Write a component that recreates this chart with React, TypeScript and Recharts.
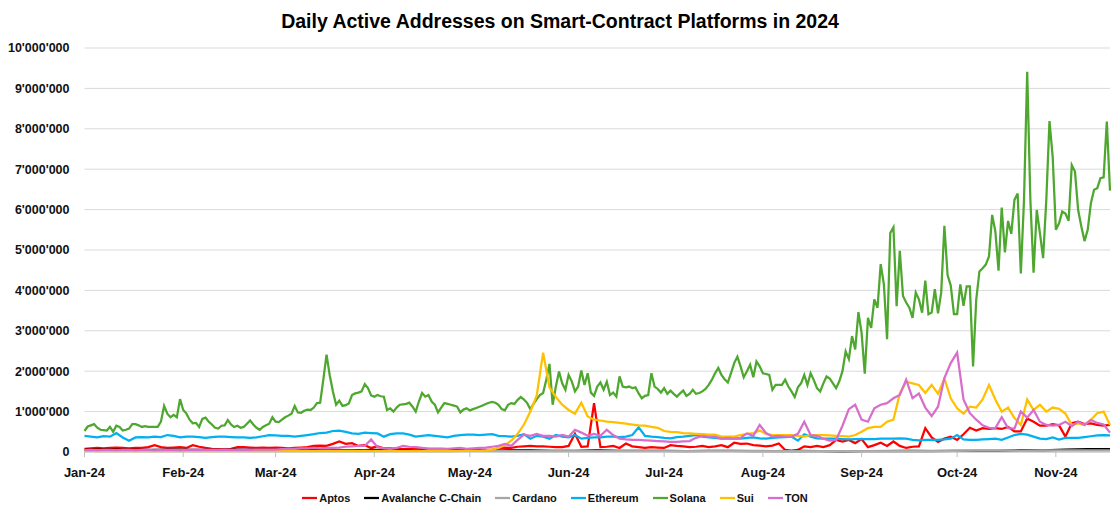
import { LineChart, Line, XAxis, YAxis, CartesianGrid, Legend } from "recharts";

// Day 0 = 1 Jan 2024, last point = 18 Nov 2024. Values in millions of addresses.
const LAST_DAY = 322;
const MONTH_DAYS = [0, 31, 60, 91, 121, 152, 182, 213, 244, 274, 305];
const MONTH_LABELS = ["Jan-24", "Feb-24", "Mar-24", "Apr-24", "May-24", "Jun-24", "Jul-24", "Aug-24", "Sep-24", "Oct-24", "Nov-24"];
const Y_TICKS = [0, 1e6, 2e6, 3e6, 4e6, 5e6, 6e6, 7e6, 8e6, 9e6, 1e7];

// daily
const solana = [
  0.52, 0.63, 0.66, 0.69, 0.60, 0.55, 0.54, 0.53, 0.62, 0.50,
  0.65, 0.62, 0.53, 0.55, 0.58, 0.69, 0.69, 0.66, 0.62, 0.64,
  0.62, 0.62, 0.62, 0.62, 0.75, 1.14, 0.95, 0.86, 0.92, 0.86,
  1.31, 1.04, 0.95, 0.80, 0.71, 0.72, 0.62, 0.82, 0.85, 0.75,
  0.68, 0.60, 0.58, 0.65, 0.66, 0.79, 0.68, 0.62, 0.65, 0.60,
  0.62, 0.70, 0.78, 0.68, 0.60, 0.55, 0.62, 0.66, 0.70, 0.86,
  0.75, 0.74, 0.80, 0.86, 0.90, 0.95, 1.14, 0.98, 0.97, 1.02,
  1.05, 1.04, 1.10, 1.21, 1.22, 1.80, 2.41, 1.90, 1.50, 1.17,
  1.27, 1.14, 1.16, 1.20, 1.41, 1.45, 1.47, 1.50, 1.68, 1.58,
  1.40, 1.37, 1.41, 1.38, 1.37, 1.04, 1.08, 1.00, 1.10, 1.17,
  1.18, 1.19, 1.22, 1.12, 1.00, 1.25, 1.46, 1.37, 1.41, 1.25,
  1.17, 0.98, 1.10, 1.21, 1.19, 1.17, 1.15, 1.12, 0.98, 1.05,
  1.08, 1.03, 1.06, 1.09, 1.12, 1.15, 1.19, 1.22, 1.24, 1.22,
  1.17, 1.06, 1.03, 1.17, 1.21, 1.19, 1.29, 1.36, 1.30, 1.21,
  1.06, 1.19, 1.31, 1.41, 1.46, 1.79, 2.18, 1.17, 1.62, 1.99,
  1.70, 1.54, 1.91, 1.75, 1.50, 1.62, 2.02, 1.66, 1.95, 1.47,
  1.39, 1.62, 1.72, 1.54, 1.74, 1.41, 1.47, 1.37, 1.87, 1.62,
  1.60, 1.62, 1.58, 1.60, 1.45, 1.33, 1.39, 1.41, 1.95, 1.62,
  1.56, 1.47, 1.58, 1.44, 1.52, 1.44, 1.37, 1.45, 1.52, 1.39,
  1.44, 1.54, 1.44, 1.46, 1.50, 1.56, 1.66, 1.79, 1.95, 2.08,
  1.91, 1.80, 1.72, 1.95, 2.20, 2.36, 2.12, 1.85, 2.00, 2.16,
  1.85, 2.24, 2.12, 1.95, 1.93, 1.91, 1.54, 1.66, 1.66, 1.66,
  1.79, 1.62, 1.50, 1.36, 1.60, 1.70, 1.91, 1.66, 1.95, 1.78,
  1.58, 1.50, 1.70, 1.87, 1.82, 1.70, 1.58, 1.75, 2.00, 2.49,
  2.30, 2.87, 2.54, 3.46, 2.95, 1.94, 3.32, 3.07, 3.78, 3.57,
  4.65, 4.15, 2.79, 5.42, 5.56, 3.61, 4.98, 3.86, 3.70, 3.57,
  3.32, 3.95, 3.78, 3.45, 4.24, 3.41, 3.45, 4.03, 3.43, 3.95,
  5.60, 4.38, 4.12, 3.41, 3.41, 4.15, 3.62, 4.10, 4.10, 2.12,
  3.77, 4.47, 4.55, 4.64, 4.84, 5.87, 5.46, 4.49, 6.05, 4.94,
  5.72, 5.40, 6.24, 6.40, 4.42, 6.24, 9.41, 6.24, 4.44, 5.99,
  5.42, 4.80, 6.24, 8.19, 7.31, 5.50, 5.66, 5.95, 5.90, 5.72,
  7.10, 6.94, 5.99, 5.58, 5.22, 5.50, 6.16, 6.49, 6.53, 6.78,
  6.80, 8.18, 6.47,
];

// every 2nd day
const aptos = [
  0.08, 0.09, 0.10, 0.09, 0.10, 0.11, 0.10, 0.09, 0.10, 0.10,
  0.12, 0.17, 0.12, 0.10, 0.11, 0.12, 0.10, 0.17, 0.13, 0.10,
  0.08, 0.07, 0.07, 0.08, 0.12, 0.12, 0.11, 0.10, 0.11, 0.10,
  0.11, 0.10, 0.09, 0.10, 0.11, 0.12, 0.15, 0.16, 0.15, 0.20,
  0.26, 0.20, 0.22, 0.15, 0.17, 0.10, 0.14, 0.09, 0.09, 0.08,
  0.07, 0.08, 0.08, 0.09, 0.08, 0.08, 0.08, 0.07, 0.07, 0.07,
  0.07, 0.07, 0.06, 0.05, 0.06, 0.09, 0.11, 0.10, 0.13, 0.14,
  0.15, 0.14, 0.14, 0.13, 0.12, 0.12, 0.15, 0.45, 0.13, 0.14,
  1.21, 0.12, 0.13, 0.15, 0.10, 0.21, 0.14, 0.12, 0.10, 0.12,
  0.11, 0.10, 0.17, 0.15, 0.14, 0.12, 0.13, 0.15, 0.12, 0.14,
  0.17, 0.12, 0.23, 0.20, 0.21, 0.17, 0.16, 0.14, 0.16, 0.21,
  0.05, 0.03, 0.05, 0.14, 0.12, 0.15, 0.12, 0.17, 0.30, 0.26,
  0.30, 0.22, 0.32, 0.12, 0.17, 0.23, 0.15, 0.26, 0.15, 0.10,
  0.13, 0.14, 0.59, 0.36, 0.25, 0.33, 0.38, 0.30, 0.44, 0.60,
  0.53, 0.59, 0.57, 0.59, 0.57, 0.62, 0.51, 0.51, 0.83, 0.75,
  0.65, 0.65, 0.69, 0.66, 0.38, 0.71, 0.75, 0.69, 0.71, 0.67,
  0.65, 0.67,
];

const ethereum = [
  0.40, 0.38, 0.36, 0.39, 0.38, 0.47, 0.36, 0.28, 0.36, 0.37,
  0.36, 0.38, 0.37, 0.42, 0.40, 0.36, 0.38, 0.38, 0.37, 0.35,
  0.37, 0.38, 0.38, 0.37, 0.36, 0.36, 0.35, 0.36, 0.39, 0.42,
  0.41, 0.40, 0.40, 0.38, 0.40, 0.42, 0.44, 0.47, 0.48, 0.52,
  0.53, 0.50, 0.46, 0.45, 0.48, 0.47, 0.46, 0.38, 0.44, 0.46,
  0.46, 0.43, 0.38, 0.40, 0.42, 0.40, 0.38, 0.36, 0.40, 0.42,
  0.43, 0.43, 0.42, 0.43, 0.44, 0.40, 0.39, 0.38, 0.40, 0.44,
  0.33, 0.40, 0.38, 0.33, 0.42, 0.38, 0.36, 0.42, 0.33, 0.35,
  0.36, 0.36, 0.38, 0.38, 0.37, 0.38, 0.42, 0.61, 0.40, 0.38,
  0.37, 0.35, 0.34, 0.37, 0.38, 0.40, 0.42, 0.38, 0.36, 0.35,
  0.33, 0.33, 0.34, 0.33, 0.35, 0.36, 0.34, 0.33, 0.35, 0.36,
  0.37, 0.38, 0.28, 0.44, 0.38, 0.34, 0.33, 0.33, 0.33, 0.32,
  0.31, 0.32, 0.32, 0.32, 0.32, 0.33, 0.33, 0.33, 0.34, 0.33,
  0.30, 0.29, 0.30, 0.30, 0.30, 0.31, 0.33, 0.42, 0.31, 0.30,
  0.30, 0.31, 0.32, 0.33, 0.30, 0.36, 0.42, 0.45, 0.43, 0.38,
  0.33, 0.32, 0.36, 0.31, 0.35, 0.35, 0.35, 0.37, 0.39, 0.41,
  0.42, 0.41,
];

const sui = [
  0.03, 0.03, 0.02, 0.03, 0.02, 0.02, 0.03, 0.02, 0.02, 0.03,
  0.02, 0.02, 0.03, 0.02, 0.02, 0.02, 0.03, 0.02, 0.02, 0.02,
  0.02, 0.03, 0.02, 0.02, 0.02, 0.02, 0.03, 0.02, 0.02, 0.02,
  0.02, 0.02, 0.02, 0.03, 0.02, 0.02, 0.02, 0.02, 0.03, 0.02,
  0.02, 0.02, 0.02, 0.02, 0.03, 0.02, 0.02, 0.02, 0.02, 0.02,
  0.02, 0.02, 0.03, 0.02, 0.02, 0.02, 0.02, 0.02, 0.02, 0.03,
  0.03, 0.03, 0.03, 0.04, 0.06, 0.10, 0.17, 0.28, 0.45, 0.68,
  1.00, 1.40, 2.46, 1.60, 1.36, 1.17, 1.04, 0.95, 1.22, 0.88,
  0.80, 0.78, 0.75, 0.74, 0.72, 0.70, 0.68, 0.66, 0.65, 0.62,
  0.60, 0.52, 0.50, 0.49, 0.47, 0.46, 0.45, 0.44, 0.43, 0.43,
  0.38, 0.38, 0.38, 0.42, 0.45, 0.47, 0.53, 0.45, 0.42, 0.42,
  0.42, 0.42, 0.40, 0.38, 0.42, 0.42, 0.42, 0.41, 0.40, 0.39,
  0.38, 0.42, 0.50, 0.59, 0.62, 0.62, 0.75, 0.80, 1.45, 1.74,
  1.70, 1.66, 1.46, 1.66, 1.44, 1.82, 1.33, 1.08, 0.95, 1.12,
  1.10, 1.30, 1.66, 1.30, 1.00, 1.10, 0.84, 0.67, 1.30, 1.04,
  1.17, 1.00, 1.10, 1.07, 0.95, 0.67, 0.71, 0.67, 0.80, 0.96,
  1.00, 0.67,
];

const ton = [
  0.04, 0.05, 0.04, 0.05, 0.05, 0.04, 0.05, 0.05, 0.04, 0.05,
  0.05, 0.04, 0.05, 0.05, 0.05, 0.04, 0.05, 0.05, 0.06, 0.05,
  0.05, 0.05, 0.06, 0.05, 0.05, 0.06, 0.05, 0.06, 0.06, 0.06,
  0.06, 0.07, 0.08, 0.08, 0.09, 0.09, 0.10, 0.09, 0.10, 0.10,
  0.11, 0.13, 0.14, 0.15, 0.15, 0.31, 0.12, 0.09, 0.08, 0.10,
  0.15, 0.13, 0.12, 0.10, 0.08, 0.08, 0.08, 0.08, 0.09, 0.10,
  0.08, 0.09, 0.10, 0.11, 0.13, 0.15, 0.20, 0.15, 0.30, 0.43,
  0.40, 0.45, 0.40, 0.40, 0.38, 0.42, 0.38, 0.55, 0.48, 0.40,
  0.45, 0.40, 0.55, 0.42, 0.33, 0.31, 0.30, 0.30, 0.29, 0.28,
  0.27, 0.26, 0.25, 0.25, 0.26, 0.27, 0.35, 0.40, 0.38, 0.38,
  0.33, 0.35, 0.33, 0.35, 0.46, 0.40, 0.67, 0.47, 0.38, 0.40,
  0.38, 0.38, 0.45, 0.75, 0.42, 0.40, 0.33, 0.28, 0.30, 0.65,
  1.06, 1.17, 0.80, 0.75, 1.08, 1.17, 1.21, 1.33, 1.41, 1.79,
  1.33, 1.45, 1.10, 0.89, 1.12, 1.83, 2.20, 2.46, 1.30, 0.96,
  0.80, 0.66, 0.60, 0.59, 0.86, 0.59, 0.58, 1.00, 0.85, 1.04,
  0.75, 0.67, 0.65, 0.67, 0.75, 0.64, 0.75, 0.67, 0.79, 0.72,
  0.68, 0.48,
];

// weekly
const avalanche = [
  0.05, 0.06, 0.05, 0.05, 0.06, 0.05, 0.05, 0.06, 0.05, 0.05,
  0.05, 0.04, 0.04, 0.05, 0.04, 0.04, 0.04, 0.04, 0.03, 0.04,
  0.04, 0.03, 0.03, 0.04, 0.03, 0.03, 0.03, 0.02, 0.03, 0.03,
  0.02, 0.02, 0.03, 0.02, 0.01, 0.02, 0.02, 0.03, 0.02, 0.03,
  0.03, 0.03, 0.04, 0.04, 0.06, 0.07, 0.07,
];

const cardano = [
  0.04, 0.04, 0.04, 0.03, 0.04, 0.04, 0.03, 0.04, 0.03, 0.03,
  0.03, 0.03, 0.03, 0.03, 0.03, 0.03, 0.02, 0.03, 0.03, 0.02,
  0.02, 0.03, 0.02, 0.02, 0.02, 0.03, 0.02, 0.02, 0.02, 0.02,
  0.03, 0.02, 0.02, 0.02, 0.02, 0.02, 0.03, 0.03, 0.03, 0.03,
  0.04, 0.04, 0.03, 0.04, 0.04, 0.04, 0.04,
];

const SERIES = [
  { key: "aptos", name: "Aptos", color: "#FF0000", values: aptos, step: 2 },
  { key: "avalanche", name: "Avalanche C-Chain", color: "#000000", values: avalanche, step: 7 },
  { key: "cardano", name: "Cardano", color: "#A6A6A6", values: cardano, step: 7 },
  { key: "ethereum", name: "Ethereum", color: "#00B0F0", values: ethereum, step: 2 },
  { key: "solana", name: "Solana", color: "#4EA72E", values: solana, step: 1 },
  { key: "sui", name: "Sui", color: "#FFC000", values: sui, step: 2 },
  { key: "ton", name: "TON", color: "#D86ECC", values: ton, step: 2 },
];

const rows: Record<string, number>[] = Array.from({ length: LAST_DAY + 1 }, (_, d) => ({ day: d }));
SERIES.forEach((s) => {
  s.values.forEach((v, i) => {
    const d = i * s.step;
    if (d <= LAST_DAY) rows[d][s.key] = v * 1e6;
  });
});

const fmtY = (v: number) => (v === 0 ? "0" : String(Math.round(v)).replace(/\B(?=(\d{3})+(?!\d))/g, "'"));
const fmtX = (d: number) => MONTH_LABELS[MONTH_DAYS.indexOf(d)] ?? "";

const FONT = "'Liberation Sans', Arial, sans-serif";

function LegendRow() {
  return (
    <div
      style={{
        height: 36,
        paddingTop: 10,
        paddingLeft: 14,
        boxSizing: "border-box",
        display: "flex",
        justifyContent: "center",
        alignItems: "center",
        fontFamily: FONT,
        fontWeight: 700,
        fontSize: 11,
        color: "#111",
      }}
    >
      {SERIES.map((s) => (
        <div key={s.key} style={{ display: "flex", alignItems: "center", marginRight: 14 }}>
          <svg width={15} height={4} style={{ marginRight: 2 }}>
            <line x1={0} y1={2} x2={15} y2={2} stroke={s.color} strokeWidth={2.25} />
          </svg>
          <span>{s.name}</span>
        </div>
      ))}
    </div>
  );
}

export default function App() {
  return (
    <div style={{ position: "relative", width: 1120, height: 511, background: "#fff" }}>
      <style>{"body{margin:0}"}</style>
      <div
        style={{
          position: "absolute",
          top: 12,
          left: 0,
          width: 1120,
          textAlign: "center",
          fontFamily: FONT,
          fontWeight: 700,
          fontSize: 19.5,
          lineHeight: "19.5px",
          color: "#000",
        }}
      >
        Daily Active Addresses on Smart-Contract Platforms in 2024
      </div>
      <LineChart width={1120} height={511} data={rows} margin={{ top: 48, right: 10, bottom: 0, left: 0 }} style={{ fontFamily: FONT }}>
        <CartesianGrid vertical={false} stroke="#d9d9d9" />
        <XAxis
          dataKey="day"
          type="number"
          domain={[0, LAST_DAY]}
          ticks={MONTH_DAYS}
          tickFormatter={fmtX}
          height={23}
          interval={0}
          stroke="#bfbfbf"
          tickSize={5}
          tickMargin={11}
          tick={{ fill: "#111", fontSize: 13, fontWeight: 700 }}
        />
        <YAxis
          type="number"
          domain={[0, 1e7]}
          ticks={Y_TICKS}
          tickFormatter={fmtY}
          width={84.5}
          axisLine={false}
          tickLine={false}
          tickSize={0}
          tickMargin={15}
          interval={0}
          tick={{ fill: "#111", fontSize: 12.5, fontWeight: 700 }}
        />
        <Legend verticalAlign="bottom" height={36} content={() => <LegendRow />} />
        {SERIES.map((s) => (
          <Line
            key={s.key}
            dataKey={s.key}
            name={s.name}
            type="linear"
            stroke={s.color}
            strokeWidth={2.25}
            dot={false}
            activeDot={false}
            connectNulls
            isAnimationActive={false}
          />
        ))}
      </LineChart>
    </div>
  );
}
